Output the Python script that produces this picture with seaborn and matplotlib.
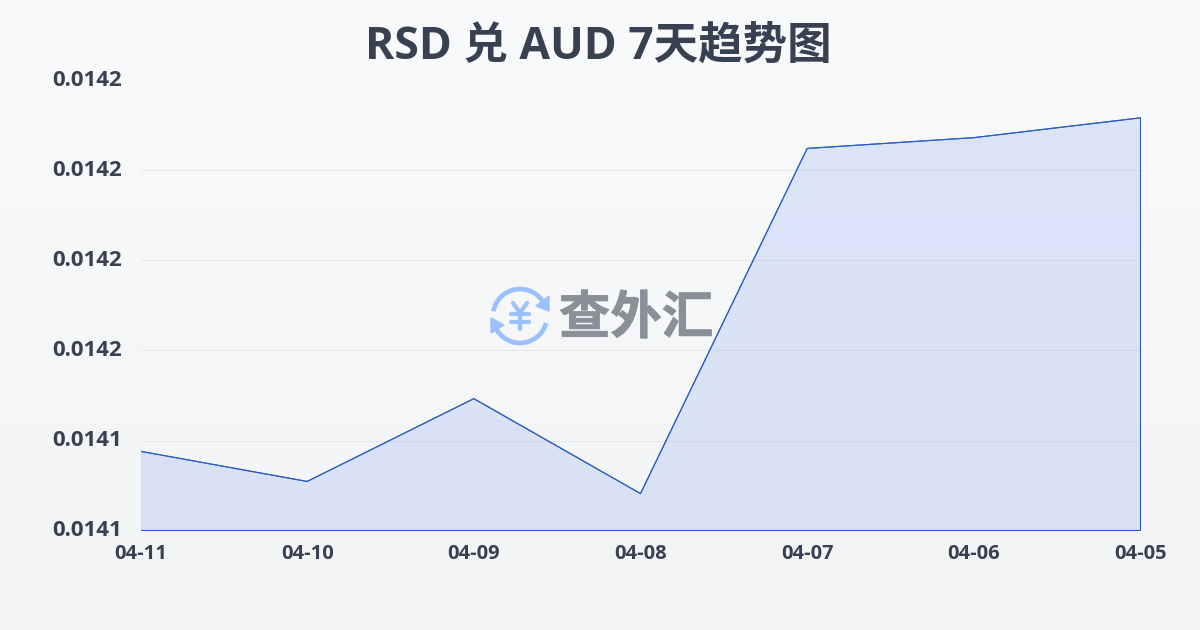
import numpy as np
import pandas as pd
import matplotlib
matplotlib.use("Agg")
import matplotlib.pyplot as plt
import matplotlib.patheffects as pe
import seaborn as sns
from matplotlib.patches import Arc, Polygon
from matplotlib.ticker import FuncFormatter
from matplotlib.transforms import ScaledTranslation

dates = ["04-11", "04-10", "04-09", "04-08", "04-07", "04-06", "04-05"]
rates = [0.0141376, 0.0141309, 0.0141493, 0.0141282, 0.0142049, 0.0142073, 0.0142117]
y_ticks = [0.01412, 0.01414, 0.01416, 0.01418, 0.01420, 0.01422]

TEXT = "#374151"
LINE = "#2a5bc6"
GRID = "#e7e9ed"

sns.set_theme(style="white")
plt.rcParams["font.family"] = ["Open Sans", "Noto Sans CJK SC", "DejaVu Sans"]

df = pd.DataFrame({"date": dates, "rate": rates})

fig = plt.figure(figsize=(12, 6.3), dpi=100)

# page background, light vertical gradient
bg = fig.add_axes([0, 0, 1, 1], zorder=0)
bg.imshow(np.linspace(0, 1, 256).reshape(-1, 1), aspect="auto",
          cmap=matplotlib.colors.LinearSegmentedColormap.from_list("bg", ["#f9fafb", "#f3f4f6"]))
bg.axis("off")

ax = fig.add_axes([140.5 / 1200, 1 - 530.5 / 630, 1000 / 1200, 450 / 630], zorder=1)
ax.patch.set_alpha(0)

ax.fill_between(range(len(dates)), rates, y_ticks[0], facecolor="#2563eb", alpha=0.13, linewidth=0, zorder=2)
ax.fill_between(range(len(dates)), rates, y_ticks[0], facecolor="none", edgecolor=LINE, linewidth=0.8, zorder=3)
sns.lineplot(data=df, x="date", y="rate", sort=False, color=LINE, linewidth=0.8, ax=ax, zorder=3)

ax.set_xlim(0, len(dates) - 1)
ax.set_ylim(y_ticks[0], y_ticks[-1])
ax.set_yticks(y_ticks)
ax.yaxis.set_major_formatter(FuncFormatter(lambda v, _: f"{v:.4f}"))
ax.grid(axis="y", color=GRID, linewidth=0.8)
ax.set_axisbelow(True)
ax.set_xlabel("")
ax.set_ylabel("")
sns.despine(ax=ax, left=True, bottom=True)
ax.tick_params(axis="y", length=0, pad=13)
ax.tick_params(axis="x", length=6, width=0.8, color=GRID, pad=4)
nudge = ScaledTranslation(0, 2 / 72, fig.dpi_scale_trans)
for lab in ax.get_yticklabels():
    lab.set(fontsize=16, fontweight="bold", color=TEXT)
    lab.set_transform(lab.get_transform() + nudge)
for lab in ax.get_xticklabels():
    lab.set(fontsize=14.5, fontweight="bold", color=TEXT)

fig.text(598.5 / 1200, 1 - 47 / 630, "RSD 兑 AUD 7天趋势图", ha="center", va="center",
         fontsize=32, fontweight="bold", color=TEXT,
         family=["Open Sans", "Noto Sans CJK SC"])

# watermark logo, overlay in pixel coordinates
logo = fig.add_axes([0, 0, 1, 1], zorder=2)
logo.set_xlim(0, 1200)
logo.set_ylim(630, 0)
logo.axis("off")
BLUE = "#9cc0fb"
cx, cy = 520, 316
logo.add_patch(Arc((cx, cy), 54, 54, theta1=190, theta2=335, color=BLUE, lw=3.4))
logo.add_patch(Arc((cx, cy), 54, 54, theta1=15, theta2=160, color=BLUE, lw=3.4))
logo.add_patch(Polygon([[549, 311], [536, 306], [549, 296]], color=BLUE))
logo.add_patch(Polygon([[491, 318], [504, 325], [491, 333]], color=BLUE))
# yen sign inside the ring
for xs, ys in [([513, 520, 527], [303, 313, 303]), ([511, 529], [314, 314]),
               ([511, 529], [322, 322]), ([520, 520], [313, 329])]:
    logo.plot(xs, ys, color=BLUE, lw=3, solid_capstyle="round", solid_joinstyle="round")
logo.text(636, 318, "查外汇", ha="center", va="center", fontsize=37, fontweight="bold",
          color="#8a8f98", family="Noto Sans CJK SC",
          path_effects=[pe.withStroke(linewidth=0.6, foreground="#8a8f98")])

fig.savefig("out.png", dpi=100)
